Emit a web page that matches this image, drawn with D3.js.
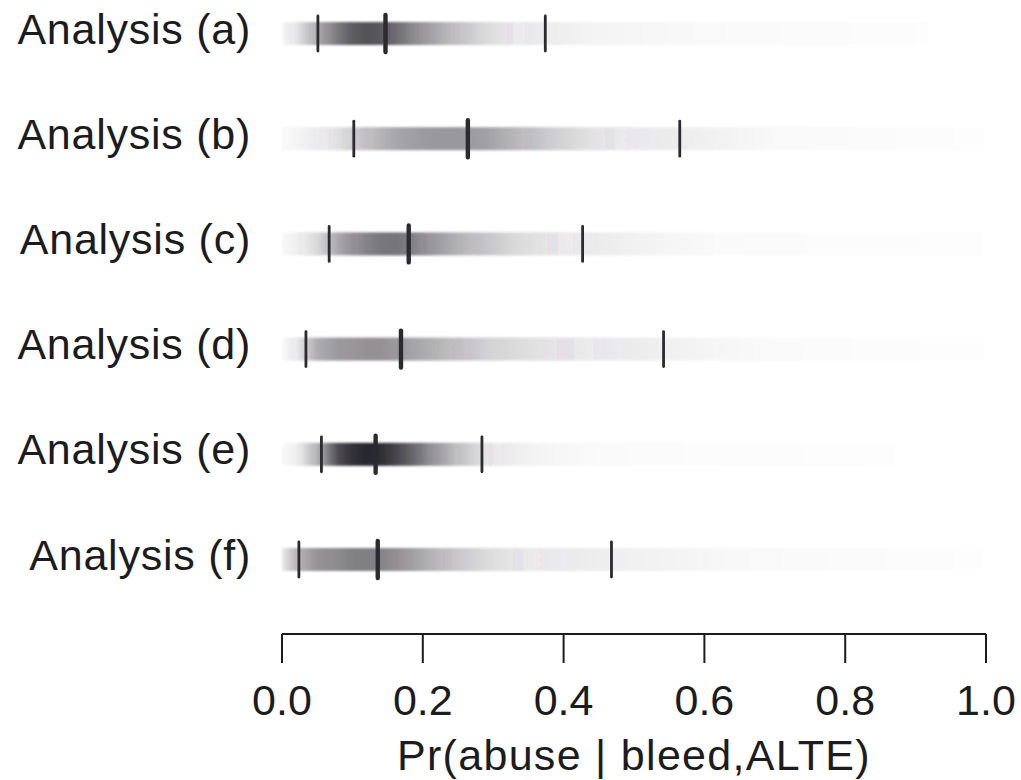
<!DOCTYPE html>
<html>
<head>
<meta charset="utf-8">
<script src="https://cdn.jsdelivr.net/npm/d3@7"></script>
<style>
  html, body { margin: 0; padding: 0; background: #fff; }
  svg { display: block; }
</style>
</head>
<body>
<svg id="chart" width="1021" height="780"></svg>
<script>
// analyses, one strip each
const labels = ['Analysis (a)', 'Analysis (b)', 'Analysis (c)', 'Analysis (d)', 'Analysis (e)', 'Analysis (f)']
const lower = [0.051, 0.102, 0.067, 0.034, 0.056, 0.024]
const median = [0.147, 0.264, 0.180, 0.169, 0.133, 0.136]
const upper = [0.374, 0.565, 0.427, 0.542, 0.284, 0.468]
// where each faint tail stops
const stripEnd = [0.92, 1.0, 0.995, 1.0, 0.87, 0.995]

// shading (relative density) sampled at these points
const densityGrid = [0, 0.02, 0.05, 0.08, 0.10, 0.12, 0.14, 0.16, 0.18, 0.21, 0.25, 0.29, 0.33, 0.38, 0.44, 0.50, 0.56, 0.62, 0.70, 0.80, 0.90, 1.0]
const densityA = [0.03, 0.12, 0.38, 0.62, 0.75, 0.79, 0.77, 0.68, 0.57, 0.43, 0.28, 0.17, 0.11, 0.07, 0.045, 0.035, 0.028, 0.022, 0.018, 0.014, 0.01, 0]
const densityB = [0.02, 0.04, 0.08, 0.15, 0.22, 0.29, 0.35, 0.40, 0.43, 0.46, 0.47, 0.43, 0.34, 0.23, 0.14, 0.09, 0.075, 0.05, 0.025, 0.018, 0.012, 0.008]
const densityC = [0.02, 0.06, 0.18, 0.40, 0.50, 0.57, 0.62, 0.63, 0.60, 0.48, 0.36, 0.26, 0.18, 0.12, 0.08, 0.055, 0.035, 0.02, 0.015, 0.012, 0.01, 0.006]
const densityD = [0.02, 0.10, 0.38, 0.46, 0.48, 0.50, 0.50, 0.47, 0.43, 0.37, 0.29, 0.21, 0.17, 0.13, 0.10, 0.075, 0.055, 0.035, 0.02, 0.014, 0.01, 0.007]
const densityE = [0.02, 0.06, 0.35, 0.82, 0.95, 1.0, 0.97, 0.86, 0.74, 0.52, 0.29, 0.13, 0.065, 0.035, 0.022, 0.017, 0.014, 0.012, 0.011, 0.008, 0.005, 0]
const densityF = [0.10, 0.33, 0.49, 0.54, 0.58, 0.59, 0.57, 0.52, 0.45, 0.36, 0.25, 0.17, 0.12, 0.09, 0.07, 0.055, 0.045, 0.03, 0.022, 0.016, 0.012, 0.008]
const densities = [densityA, densityB, densityC, densityD, densityE, densityF]

const xTicks = [0, 0.2, 0.4, 0.6, 0.8, 1.0]
const xTitle = 'Pr(abuse | bleed,ALTE)'

const font = '"Liberation Sans", Arial, Helvetica, sans-serif'
const ink = '#1c1c1e'
const stripColor = 'rgb(40,38,46)'

const svg = d3.select('#chart')

const x = d3.scaleLinear().domain([0, 1]).range([282, 986])
const y = d3.scalePoint().domain(labels).range([33.5, 559.5])

const stripHeight = 23

// gradients, one per strip
const defs = svg.append('defs')
defs
  .append('filter')
  .attr('id', 'soft')
  .attr('x', '-2%')
  .attr('y', '-30%')
  .attr('width', '104%')
  .attr('height', '160%')
  .append('feGaussianBlur')
  .attr('stdDeviation', 0.8)

labels.forEach((lab, i) => {
  const grad = defs
    .append('linearGradient')
    .attr('id', 'dens' + i)
    .attr('gradientUnits', 'userSpaceOnUse')
    .attr('x1', x(0))
    .attr('x2', x(1))
    .attr('y1', 0)
    .attr('y2', 0)
  grad
    .selectAll('stop')
    .data(densityGrid)
    .join('stop')
    .attr('offset', (d) => d)
    .attr('stop-color', stripColor)
    .attr('stop-opacity', (d, j) => densities[i][j])
})

const rows = svg
  .append('g')
  .attr('id', 'strips')
  .selectAll('g')
  .data(labels)
  .join('g')
  .attr('transform', (d) => 'translate(0,' + y(d) + ')')

// density strip
rows
  .append('rect')
  .attr('x', x(0))
  .attr('y', -stripHeight / 2)
  .attr('width', (d, i) => x(stripEnd[i]) - x(0))
  .attr('height', stripHeight)
  .attr('fill', (d, i) => 'url(#dens' + i + ')')
  .attr('filter', 'url(#soft)')

// interval ends and median
rows.each(function (d, i) {
  const g = d3.select(this)
  ;[lower[i], upper[i]].forEach((v) => {
    g.append('line')
      .attr('x1', x(v))
      .attr('x2', x(v))
      .attr('y1', -17.5)
      .attr('y2', 17.5)
      .attr('stroke', '#2b2a30')
      .attr('stroke-width', 2.8)
      .attr('stroke-linecap', 'round')
  })
  g.append('line')
    .attr('x1', x(median[i]))
    .attr('x2', x(median[i]))
    .attr('y1', -18.5)
    .attr('y2', 18.5)
    .attr('stroke', '#2b2a30')
    .attr('stroke-width', 4.4)
    .attr('stroke-linecap', 'round')
})

// row labels
rows
  .append('text')
  .attr('x', 251)
  .attr('y', 10)
  .attr('text-anchor', 'end')
  .attr('font-family', font)
  .attr('font-size', 43)
  .attr('letter-spacing', 0.75)
  .attr('fill', ink)
  .text((d) => d)

// x axis
const axis = svg.append('g').attr('id', 'xAxis').attr('transform', 'translate(0,634)')
axis
  .append('line')
  .attr('x1', x(0))
  .attr('x2', x(1))
  .attr('stroke', ink)
  .attr('stroke-width', 2)
axis
  .selectAll('.tick')
  .data(xTicks)
  .join('line')
  .attr('class', 'tick')
  .attr('x1', (d) => x(d))
  .attr('x2', (d) => x(d))
  .attr('y1', 0)
  .attr('y2', 29)
  .attr('stroke', ink)
  .attr('stroke-width', 2)
axis
  .selectAll('.tickLabel')
  .data(xTicks)
  .join('text')
  .attr('class', 'tickLabel')
  .attr('x', (d) => x(d))
  .attr('y', 81)
  .attr('text-anchor', 'middle')
  .attr('font-family', font)
  .attr('font-size', 43)
  .attr('fill', ink)
  .text((d) => d3.format('.1f')(d))

// axis title
svg
  .append('text')
  .attr('x', (x(0) + x(1)) / 2)
  .attr('y', 770)
  .attr('text-anchor', 'middle')
  .attr('font-family', font)
  .attr('font-size', 43)
  .attr('letter-spacing', 1.3)
  .attr('fill', ink)
  .text(xTitle)
</script>
</body>
</html>
